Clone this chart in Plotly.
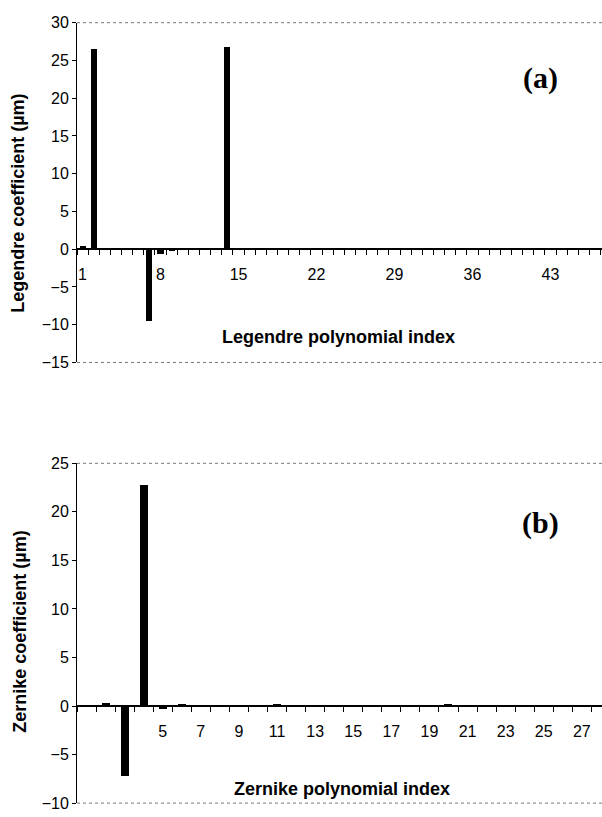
import plotly.graph_objects as go

# ---- data ----
legendre_index = list(range(1, 49))
legendre_coef = [0.45, 26.5, 0.0, 0.1, 0.0, 0.0, -9.5, -0.55, -0.1, 0.05,
                 0.05, 0.05, 0.05, 26.8, 0.0, 0.12, 0.0, 0.0, 0.0, 0.0,
                 -0.05, 0.1, 0.0, 0.0, 0.0, 0.0, 0.05, 0.0, 0.0, 0.0,
                 0.0, 0.05, 0.0, 0.0, 0.0, 0.0, 0.0, 0.0, 0.0, 0.0,
                 0.0, 0.0, 0.0, 0.0, 0.0, 0.0, 0.0, 0.0]
legendre_ticks = [1, 8, 15, 22, 29, 36, 43]

zernike_index = list(range(1, 29))
zernike_coef = [0.05, 0.3, -7.2, 22.7, -0.3, 0.1, -0.05, 0.0, 0.0, 0.0,
                0.1, 0.0, 0.0, 0.0, 0.05, 0.0, 0.0, 0.0, 0.0, 0.1,
                0.0, 0.0, 0.0, 0.0, 0.05, 0.0, 0.0, 0.0]
zernike_ticks = [5, 7, 9, 11, 13, 15, 17, 19, 21, 23, 25, 27]

# ---- layout geometry ----
W, H = 602, 817
xdom = [77 / W, 1.0]
top_dom = [(H - 362) / H, (H - 15) / H]
bot_dom = [(H - 812) / H, (H - 465) / H]
top_yrange = [-15, 30]
bot_yrange = [-10, 25]
top_xrange = [0.5, 0.5 + 525 / 11.14]
bot_xrange = [0.5, 0.5 + 525 / 19.05]


def zero_pos(dom, rng):
    return dom[0] + (0 - rng[0]) / (rng[1] - rng[0]) * (dom[1] - dom[0])


def boundaries(idx):
    return [i - 0.5 for i in idx] + [idx[-1] + 0.5]


FONT = "Liberation Sans, Arial, sans-serif"
SERIF = "Liberation Serif, Times New Roman, serif"

fig = go.Figure()
fig.add_trace(go.Bar(x=legendre_index, y=legendre_coef, width=0.55,
                     marker=dict(color="black", line=dict(width=0)),
                     xaxis="x", yaxis="y", showlegend=False))
fig.add_trace(go.Bar(x=zernike_index, y=zernike_coef, width=0.42,
                     marker=dict(color="black", line=dict(width=0)),
                     xaxis="x2", yaxis="y2", showlegend=False))
# invisible helpers so the zero-level anchor axes exist in subplots
fig.add_trace(go.Scatter(x=[legendre_index[0]], y=[0], xaxis="x", yaxis="y3",
                         mode="markers", marker=dict(opacity=0),
                         showlegend=False, hoverinfo="skip"))
fig.add_trace(go.Scatter(x=[zernike_index[0]], y=[0], xaxis="x2", yaxis="y4",
                         mode="markers", marker=dict(opacity=0),
                         showlegend=False, hoverinfo="skip"))


def xaxis_cfg(rng, ticks, idx, anchor):
    return dict(domain=xdom, anchor=anchor, range=rng, showline=False,
                showgrid=False, zeroline=False, tickmode="array",
                tickvals=ticks, ticks="outside", ticklen=11,
                tickcolor="rgba(0,0,0,0)",
                tickfont=dict(family=FONT, size=16, color="black"),
                minor=dict(tickmode="array", tickvals=boundaries(idx),
                           ticks="outside", ticklen=5, tickcolor="black",
                           tickwidth=1, showgrid=False))


ycommon = dict(showline=True, linecolor="black", linewidth=1, showgrid=False,
               zeroline=True, zerolinecolor="black", zerolinewidth=1.5,
               ticks="outside", ticklen=4, tickcolor="black",
               dtick=5, tick0=0, anchor="x",
               tickfont=dict(family=FONT, size=16, color="black"))
zt = zero_pos(top_dom, top_yrange)
zb = zero_pos(bot_dom, bot_yrange)
hidden = dict(visible=False, range=[0, 1], fixedrange=True)

fig.update_layout(
    width=W, height=H,
    margin=dict(l=0, r=0, t=0, b=0),
    paper_bgcolor="white", plot_bgcolor="rgba(0,0,0,0)",
    bargap=0,
    xaxis=xaxis_cfg(top_xrange, legendre_ticks, legendre_index, "y3"),
    xaxis2=xaxis_cfg(bot_xrange, zernike_ticks, zernike_index, "y4"),
    yaxis=dict(domain=top_dom, range=top_yrange, **ycommon),
    yaxis2=dict(domain=bot_dom, range=bot_yrange,
                **{**ycommon, "anchor": "x2"}),
    yaxis3=dict(domain=[zt, zt + 0.002], anchor="x", **hidden),
    yaxis4=dict(domain=[zb, zb + 0.002], anchor="x2", **hidden),
)

# dotted plot-area borders (top and bottom)
for xr, yr in (("x", "y"), ("x2", "y2")):
    for yv in (0, 1):
        fig.add_shape(type="line", xref=f"{xr} domain", yref=f"{yr} domain",
                      x0=0, x1=1, y0=yv, y1=yv,
                      line=dict(color="#777777", width=1, dash="dot"))

TF = dict(family=FONT, size=18, color="black")
# titles
fig.add_annotation(text="<b>Legendre coefficient (µm)</b>", textangle=-90,
                   xref="paper", yref="paper", x=18 / W, y=(H - 200) / H,
                   xanchor="center", yanchor="middle", showarrow=False, font=TF)
fig.add_annotation(text="<b>Zernike coefficient (µm)</b>", textangle=-90,
                   xref="paper", yref="paper", x=20 / W, y=(H - 637) / H,
                   xanchor="center", yanchor="middle", showarrow=False, font=TF)
fig.add_annotation(text="<b>Legendre polynomial index</b>",
                   xref="paper", yref="y", x=338 / W, y=-11.6,
                   xanchor="center", yanchor="middle", showarrow=False, font=TF)
fig.add_annotation(text="<b>Zernike polynomial index</b>",
                   xref="paper", yref="y2", x=342 / W, y=-8.5,
                   xanchor="center", yanchor="middle", showarrow=False, font=TF)
fig.add_annotation(text="<b>(a)</b>", xref="paper", yref="y", x=540 / W, y=22.7,
                   xanchor="center", yanchor="middle", showarrow=False,
                   font=dict(family=SERIF, size=30, color="black"))
fig.add_annotation(text="<b>(b)</b>", xref="paper", yref="y2", x=540 / W, y=18.9,
                   xanchor="center", yanchor="middle", showarrow=False,
                   font=dict(family=SERIF, size=30, color="black"))

fig.write_html("out.html")
